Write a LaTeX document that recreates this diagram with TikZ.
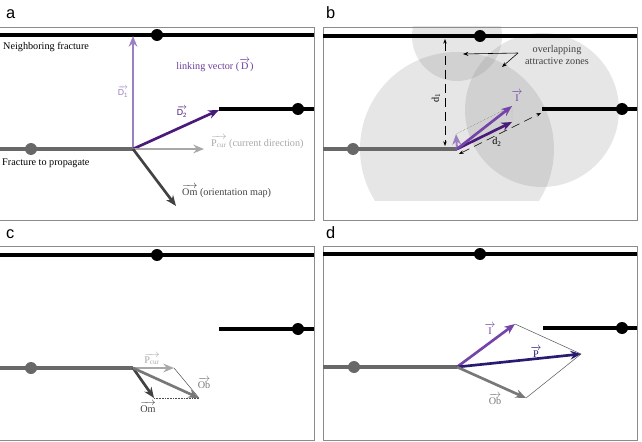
\documentclass[tikz,border=0pt]{standalone}
\usepackage{amsmath}
\usepackage{fontspec}
\setmainfont{Liberation Serif}
\newfontfamily\panelfont{Liberation Sans}
\usetikzlibrary{arrows.meta,positioning,calc}

\definecolor{fracgray}{HTML}{686868}
\definecolor{lightpurple}{HTML}{9A80C0}
\definecolor{darkpurple}{HTML}{4A1A7A}
\definecolor{midpurple}{HTML}{7444A8}
\definecolor{linkpurple}{HTML}{6A3D9A}
\definecolor{curgray}{HTML}{A8A8A8}
\definecolor{omgray}{HTML}{424242}
\definecolor{obgray}{HTML}{787878}
\definecolor{pblue}{HTML}{2A1A72}
\definecolor{framegray}{HTML}{8C8C8C}

\newcommand{\vect}[1]{$\overrightarrow{\hbox{#1}}$}

\begin{document}
\begin{tikzpicture}[x=0.3mm, y=-0.3mm,
  fracture/.style={line width=1.1mm},
  propagate/.style={line width=1.1mm, fracgray},
  vector/.style={line width=0.8mm, -{Stealth[length=3.2mm, width=2.6mm]}},
  paneltag/.style={font=\panelfont\fontsize{14}{14}\selectfont, anchor=base west},
  lbl/.style={font=\fontsize{8.7}{10}\selectfont, inner sep=0pt},
  zone/.style={fill=gray, fill opacity=0.2},
  guide/.style={line width=0.35pt, black!70},
  measure/.style={line width=0.5pt, dash pattern=on 2.6mm off 1.6mm,
    {Stealth[length=1.4mm]}-{Stealth[length=1.4mm]}}]
  \useasboundingbox (0,0) rectangle (642,442);

  % ---------------- panel a
  \node[paneltag] (taga) at (2,19) {a};
  \draw[framegray, line width=0.7pt] (0,27) -- (314,27) -- (314,220) -- (0,220);
  \draw[fracture] (0,35) -- (314,35);
  \fill (157,35) circle (1.8mm);
  \draw[fracture] (219,109) -- (314,109);
  \fill (298,109) circle (1.8mm);
  \coordinate (tipa) at (133,149);
  \draw[propagate] (0,149) -- (tipa);
  \fill[fracgray] (31,149) circle (1.8mm);
  \coordinate (d1a) at (133,36);
  \coordinate (d2a) at (219,110);
  \coordinate (pcura) at (204,149);
  \coordinate (oma) at (176,206);
  \draw[vector, lightpurple] (tipa) -- (d1a);
  \draw[vector, darkpurple] (tipa) -- (d2a);
  \draw[vector, curgray] (tipa) -- (pcura);
  \draw[vector, omgray] (tipa) -- (oma);
  \node[lbl, anchor=west] (nbr) at (3,47) {Neighboring fracture};
  \node[lbl, anchor=west] (fprop) at (2,163) {Fracture to propagate};
  \node[lbl, lightpurple, font=\panelfont\fontsize{7.5}{8}\selectfont] (d1lbl) at (123,92) {\vect{D\textsubscript{1}}};
  \node[lbl, darkpurple, font=\panelfont\fontsize{7.5}{8}\selectfont] (d2lbl) at (182,112) {\vect{D\textsubscript{2}}};
  \node[lbl, linkpurple] (link) at (215,65) {linking vector (\vect{D})};
  \node[lbl, curgray, anchor=west] (pcurlbl) at (211,142) {\vect{P\textsubscript{cur}} (current direction)};
  \node[lbl, omgray, anchor=west] (omlbl) at (182,191) {\vect{Om} (orientation map)};

  % ---------------- panel b
  \node[paneltag] (tagb) at (322,19) {b};
  \begin{scope}
    \clip (323,27) rectangle (637,200);
    \fill[zone] (457,149) circle (97);
    \fill[zone] (457,36) circle (45);
    \fill[zone] (542,110) circle (77);
  \end{scope}
  \draw[framegray, line width=0.7pt] (323,27) rectangle (637,220);
  \draw[fracture] (323,36) -- (637,36);
  \fill (480,36) circle (1.8mm);
  \draw[fracture] (542,109) -- (637,109);
  \fill (622,109) circle (1.8mm);
  \coordinate (tipb) at (457,149);
  \draw[propagate] (323,149) -- (tipb);
  \fill[fracgray] (353,149) circle (1.8mm);
  \coordinate (d1top) at (445,39);
  \coordinate (d1bot) at (445,146);
  \coordinate (d2start) at (459,154);
  \coordinate (d2end) at (541,113);
  \draw[measure] (d1top) -- (d1bot);
  \draw[measure] (d2start) -- (d2end);
  \node[lbl, rotate=90] (d1b) at (436,98) {d\textsubscript{1}};
  \node[lbl] (d2b) at (497,142) {d\textsubscript{2}};
  \coordinate (d1s) at (456,134);
  \coordinate (d2s) at (512,122);
  \coordinate (ib) at (512,106);
  \draw[guide, densely dotted] (d1s) -- (ib) -- (d2s);
  \draw[vector, lightpurple, line width=0.6mm] (tipb) -- (d1s);
  \draw[vector, darkpurple] (tipb) -- (d2s);
  \draw[vector, midpurple] (tipb) -- (ib);
  \node[lbl, midpurple] (iblbl) at (517,96) {\vect{I}};
  \node[lbl, black!75, align=center] (zones) at (557,55) {overlapping\\attractive zones};
  \coordinate (zfrom) at (518,53);
  \coordinate (zleft) at (463,54);
  \coordinate (zdown) at (502,67);
  \draw[line width=0.5pt, -{Stealth[length=1.6mm]}] (zfrom) -- (zleft);
  \draw[line width=0.5pt, -{Stealth[length=1.6mm]}] (zfrom) -- (zdown);

  % ---------------- panel c
  \node[paneltag] (tagc) at (2,238) {c};
  \draw[framegray, line width=0.7pt] (0,246) -- (314,246) -- (314,440) -- (0,440);
  \draw[fracture] (0,255) -- (314,255);
  \fill (157,255) circle (1.8mm);
  \draw[fracture] (219,329) -- (314,329);
  \fill (298,329) circle (1.8mm);
  \coordinate (tipc) at (133,368);
  \draw[propagate] (0,368) -- (tipc);
  \fill[fracgray] (31,368) circle (1.8mm);
  \coordinate (pcurc) at (174,368);
  \coordinate (omc) at (154,398);
  \coordinate (obc) at (199,398);
  \draw[guide, thin] (pcurc) -- (obc);
  \draw[guide, densely dotted] (omc) -- (obc);
  \draw[vector, curgray] (tipc) -- (pcurc);
  \draw[vector, omgray] (tipc) -- (omc);
  \draw[vector, obgray] (tipc) -- (obc);
  \node[lbl, curgray] (pcurclbl) at (152,359) {\vect{P\textsubscript{cur}}};
  \node[lbl, obgray] (obclbl) at (204,383) {\vect{Ob}};
  \node[lbl, omgray] (omclbl) at (148,407) {\vect{Om}};

  % ---------------- panel d
  \node[paneltag] (tagd) at (322,238) {d};
  \draw[framegray, line width=0.7pt] (323,246) rectangle (637,440);
  \draw[fracture] (323,254) -- (637,254);
  \fill (480,254) circle (1.8mm);
  \draw[fracture] (543,328) -- (637,328);
  \fill (622,328) circle (1.8mm);
  \coordinate (tipd) at (457,367);
  \draw[propagate] (323,367) -- (tipd);
  \fill[fracgray] (354,367) circle (1.8mm);
  \coordinate (id) at (515,324);
  \coordinate (pd) at (581,354);
  \coordinate (obd) at (526,398);
  \draw[guide, thin] (id) -- (pd) -- (obd);
  \draw[vector, midpurple] (tipd) -- (id);
  \draw[vector, pblue] (tipd) -- (pd);
  \draw[vector, obgray] (tipd) -- (obd);
  \node[lbl, midpurple] (idlbl) at (490,329) {\vect{I}};
  \node[lbl, pblue] (pdlbl) at (536,352) {\vect{P}};
  \node[lbl, obgray] (obdlbl) at (495,399) {\vect{Ob}};
\end{tikzpicture}
\end{document}
